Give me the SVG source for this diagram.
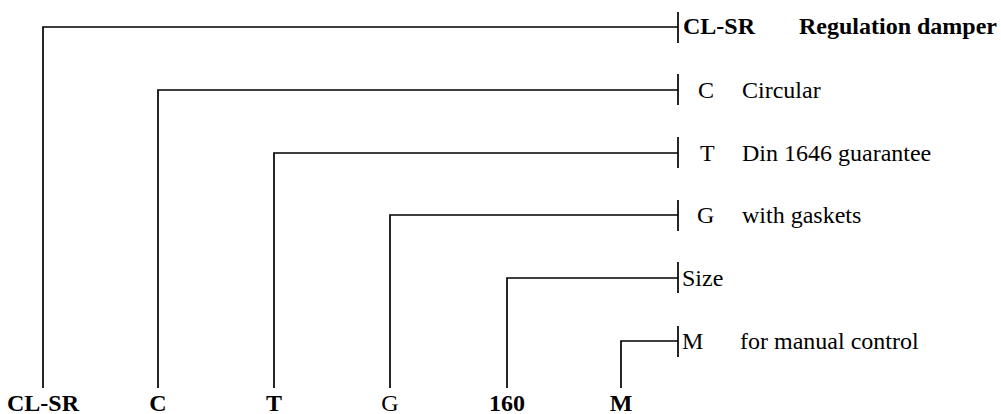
<svg xmlns="http://www.w3.org/2000/svg" width="1001" height="414" viewBox="0 0 1001 414">
<style>
.ln{fill:none;stroke:#000;stroke-width:1.7;stroke-linecap:butt;stroke-linejoin:miter}
text{font-family:"Liberation Serif","Times New Roman",serif;font-size:24px;fill:#000}
.b{font-weight:bold}
.m{text-anchor:middle}
</style>
<rect width="1001" height="414" fill="#fff"/>
<g id="connectors">
<polyline class="ln" points="43,388 43,27 678,27"/>
<line class="ln" x1="678" y1="12" x2="678" y2="43"/>
<polyline class="ln" points="158,388 158,90 678,90"/>
<line class="ln" x1="678" y1="74" x2="678" y2="105"/>
<polyline class="ln" points="274,388 274,153 678,153"/>
<line class="ln" x1="678" y1="137" x2="678" y2="168"/>
<polyline class="ln" points="390,388 390,215 678,215"/>
<line class="ln" x1="678" y1="200" x2="678" y2="231"/>
<polyline class="ln" points="507,388 507,278 678,278"/>
<line class="ln" x1="678" y1="262" x2="678" y2="293"/>
<polyline class="ln" points="621,388 621,341 678,341"/>
<line class="ln" x1="678" y1="326" x2="678" y2="357"/>
</g>
<g id="code-clsr"><text class="b m" x="43" y="411">CL-SR</text><text class="b" x="683" y="34">CL-SR</text><text class="b" x="799" y="34">Regulation damper</text></g>
<g id="code-c"><text class="b m" x="158" y="411">C</text><text x="698" y="98">C</text><text x="742" y="98">Circular</text></g>
<g id="code-t"><text class="b m" x="274" y="411">T</text><text x="700" y="161">T</text><text x="742" y="161">Din 1646 guarantee</text></g>
<g id="code-g"><text class="m" x="390" y="411">G</text><text x="697" y="223">G</text><text x="742" y="223">with gaskets</text></g>
<g id="code-size"><text class="b m" x="507" y="411">160</text><text x="682" y="286">Size</text></g>
<g id="code-m"><text class="b m" x="621" y="411">M</text><text x="682" y="349">M</text><text x="740" y="349">for manual control</text></g>
</svg>
